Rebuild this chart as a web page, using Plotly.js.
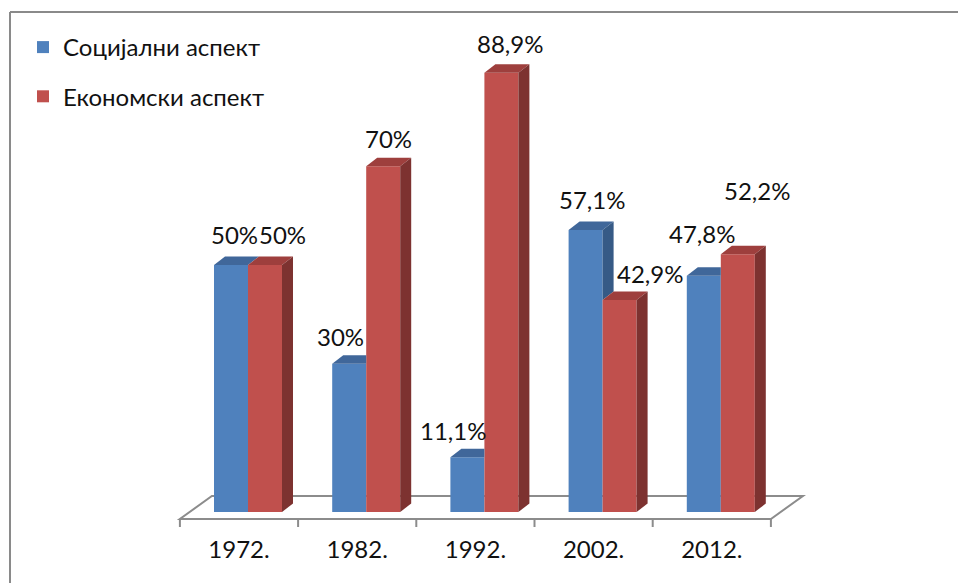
<!DOCTYPE html>
<html>
<head>
<meta charset="utf-8">
<script src="https://cdn.plot.ly/plotly-3.0.1.min.js"></script>
<style>
html,body{margin:0;padding:0;background:#fff;}
#chart{width:958px;height:583px;}
</style>
</head>
<body>
<div id="chart"></div>
<script>
// ---- data ----
const categories = ['1972.', '1982.', '1992.', '2002.', '2012.'];
const seriesNames = ['Социјални аспект', 'Економски аспект'];
const social = [50, 30, 11.1, 57.1, 47.8];
const economic = [50, 70, 88.9, 42.9, 52.2];
const socialLabels = ['50%', '30%', '11,1%', '57,1%', '47,8%'];
const economicLabels = ['50%', '70%', '88,9%', '42,9%', '52,2%'];

// ---- label placement tweaks (pixels) ----
const socialShiftX = [3, -9, -14, 6, -2];
const socialShiftY = [31, 27, 27, 30, 42];
const economicShiftX = [17, 5, 9, 30, 19];
const economicShiftY = [31, 28, 29, 27, 64];

// ---- geometry / style ----
const PX_X = 118.2;            // pixels per category
const PX_Y = 4.94;             // pixels per percent
const BAR_W = 34 / PX_X;
const BLUE_OFF = -25 / PX_X;
const RED_OFF = BLUE_OFF + BAR_W;
const DX = 11 / PX_X, DY = 8.5 / PX_Y;        // bar depth projection
const FLOOR_FRONT = -7 / PX_Y;
const FDX = 32 / PX_X, FDY = 23 / PX_Y;       // floor depth projection
const TICK_LEN = 8 / PX_Y;

const C = {
  blue: '#4F81BD', blueTop: '#40679A', blueSide: '#365A86',
  red: '#C0504D', redTop: '#9E3F3D', redSide: '#7D3230',
  grid: '#8C8C8C', text: '#111111'
};
const FONT = 'Lato, "Open Sans", sans-serif';

const idx = categories.map((_, i) => i);

function poly(pts) {
  return 'M' + pts.map(p => p[0] + ',' + p[1]).join('L') + 'Z';
}

const shapes = [];

// floor (below bars)
const fl = -0.5, fr = categories.length - 0.5;
shapes.push({
  type: 'path', xref: 'x', yref: 'y', layer: 'below',
  path: 'M' + fl + ',' + FLOOR_FRONT + 'L' + fr + ',' + FLOOR_FRONT +
        'L' + (fr + FDX) + ',' + (FLOOR_FRONT + FDY) +
        'L' + (fl + FDX) + ',' + (FLOOR_FRONT + FDY) + 'Z',
  line: {color: C.grid, width: 2}, fillcolor: 'rgba(0,0,0,0)'
});
for (let i = 0; i <= categories.length; i++) {
  shapes.push({
    type: 'line', xref: 'x', yref: 'y', layer: 'below',
    x0: i - 0.5, x1: i - 0.5, y0: FLOOR_FRONT, y1: FLOOR_FRONT - TICK_LEN,
    line: {color: C.grid, width: 2}
  });
}

// 3D faces of the bars
idx.forEach(i => {
  const vb = social[i], vr = economic[i];
  const bl = i + BLUE_OFF, br = bl + BAR_W;
  const rl = i + RED_OFF, rr = rl + BAR_W;
  // blue top
  if (vr > vb) {
    shapes.push({type: 'path', xref: 'x', yref: 'y', layer: 'above', line: {width: 0},
      fillcolor: C.blueTop,
      path: poly([[bl, vb], [br, vb], [br, vb + DY], [bl + DX, vb + DY]])});
  } else {
    shapes.push({type: 'path', xref: 'x', yref: 'y', layer: 'above', line: {width: 0},
      fillcolor: C.blueTop,
      path: poly([[bl, vb], [br, vb], [br + DX, vb + DY], [bl + DX, vb + DY]])});
  }
  // blue side, only the part above the red bar
  if (vb > vr) {
    shapes.push({type: 'path', xref: 'x', yref: 'y', layer: 'above', line: {width: 0},
      fillcolor: C.blueSide,
      path: poly([[br, vr], [br, vb], [br + DX, vb + DY], [br + DX, vr + DY]])});
  }
  // red top
  shapes.push({type: 'path', xref: 'x', yref: 'y', layer: 'above', line: {width: 0},
    fillcolor: C.redTop,
    path: poly([[rl, vr], [rr, vr], [rr + DX, vr + DY], [rl + DX, vr + DY]])});
  // red side
  shapes.push({type: 'path', xref: 'x', yref: 'y', layer: 'above', line: {width: 0},
    fillcolor: C.redSide,
    path: poly([[rr, 0], [rr, vr], [rr + DX, vr + DY], [rr + DX, DY]])});
});

// chart border (paper coords)
const L = 30, R = 30, T = 20, B = 53, W = 958, H = 583;
const pw = W - L - R, ph = H - T - B;
const px2x = p => (p - L) / pw;
const py2y = p => (H - B - p) / ph;
shapes.push({type: 'line', xref: 'paper', yref: 'paper', x0: px2x(10), x1: px2x(960),
  y0: py2y(12), y1: py2y(12), line: {color: '#8A8A8A', width: 2}});
shapes.push({type: 'line', xref: 'paper', yref: 'paper', x0: px2x(10), x1: px2x(10),
  y0: py2y(12), y1: py2y(590), line: {color: '#8A8A8A', width: 2}});

// data labels
const annotations = [];
idx.forEach(i => {
  annotations.push({x: i + BLUE_OFF + BAR_W / 2, y: social[i], xref: 'x', yref: 'y',
    text: socialLabels[i], showarrow: false, xanchor: 'center', yanchor: 'middle',
    xshift: socialShiftX[i], yshift: socialShiftY[i],
    font: {family: FONT, size: 24, color: C.text}});
  annotations.push({x: i + RED_OFF + BAR_W / 2, y: economic[i], xref: 'x', yref: 'y',
    text: economicLabels[i], showarrow: false, xanchor: 'center', yanchor: 'middle',
    xshift: economicShiftX[i], yshift: economicShiftY[i],
    font: {family: FONT, size: 24, color: C.text}});
});

const traces = [
  {type: 'bar', name: seriesNames[0], x: idx, y: social, offset: BLUE_OFF, width: BAR_W,
   marker: {color: C.blue, line: {width: 0}}, legendgroup: 'a', hoverinfo: 'skip'},
  {type: 'bar', name: seriesNames[1], x: idx, y: economic, offset: RED_OFF, width: BAR_W,
   marker: {color: C.red, line: {width: 0}}, legendgroup: 'b', hoverinfo: 'skip'}
];

const x0 = (L - 239) / PX_X, x1 = (W - R - 239) / PX_X;
const y0 = (512 - (H - B)) / PX_Y, y1 = (512 - T) / PX_Y;

const layout = {
  width: W, height: H,
  margin: {l: L, r: R, t: T, b: B, pad: 0},
  paper_bgcolor: '#fff', plot_bgcolor: 'rgba(0,0,0,0)',
  barmode: 'overlay',
  showlegend: true,
  legend: {x: px2x(23), y: py2y(25), xanchor: 'left', yanchor: 'top',
    font: {family: FONT, size: 24, color: C.text},
    traceorder: 'grouped', tracegroupgap: 15, bgcolor: 'rgba(0,0,0,0)'},
  xaxis: {range: [x0, x1], tickmode: 'array', tickvals: idx, ticktext: categories,
    showgrid: false, zeroline: false, showline: false, ticks: '', ticklabelstandoff: 3,
    tickfont: {family: FONT, size: 24, color: C.text}, fixedrange: true},
  yaxis: {range: [y0, y1], showgrid: false, zeroline: false, showline: false,
    showticklabels: false, ticks: '', fixedrange: true},
  shapes: shapes,
  annotations: annotations
};

Plotly.newPlot('chart', traces, layout, {staticPlot: true, displayModeBar: false});
</script>
</body>
</html>
